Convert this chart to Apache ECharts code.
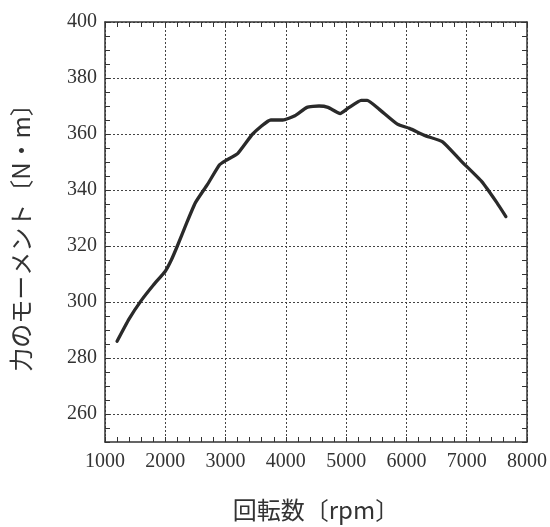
<!DOCTYPE html>
<html>
<head>
<meta charset="utf-8">
<script src="https://cdn.jsdelivr.net/npm/echarts@6/dist/echarts.min.js"></script>
<style>
  html, body { margin: 0; padding: 0; background: #ffffff; }
  #chart { width: 550px; height: 527px; }
</style>
</head>
<body>
<div id="chart"></div>
<script>
// ========== 数据 ==========
const rpmValues = [1200, 1400, 1600, 1800, 2000, 2100, 2200, 2350, 2500, 2700, 2900, 3000, 3200, 3450, 3750, 3950, 4150, 4350, 4550, 4700, 4900, 5050, 5250, 5350, 5550, 5850, 6050, 6300, 6600, 6900, 7250, 7500, 7650];
const torqueValues = [286, 294, 300.5, 306, 311, 315, 320, 328, 335.5, 342, 349, 350.5, 353, 360, 365, 365, 366.5, 369.5, 370, 369.5, 367.3, 369.5, 372, 372, 368.8, 363.5, 362, 359.5, 357.2, 350.5, 343, 335.5, 330.5];

const xTitle = '回転数〔rpm〕';
const yTitle = '力のモーメント〔N・m〕';

const seriesData = rpmValues.map((x, i) => [x, torqueValues[i]]);

const chart = echarts.init(document.getElementById('chart'), null, { renderer: 'canvas' });

const numFont = 'Liberation Serif';
const cjkFont = '"Noto Sans CJK JP"';
const frameColor = '#333333';
const gridColor = '#444444';

// 四边的刻度都朝内
const tickStyle = { show: true, inside: true, length: 5, lineStyle: { color: frameColor, width: 1 } };

const option = {
    animation: false,
    backgroundColor: '#ffffff',
    grid: { left: 105, right: 22, top: 22, bottom: 82 },
    xAxis: [
        {
            type: 'value',
            min: 1000,
            max: 8000,
            interval: 1000,
            position: 'bottom',
            name: xTitle,
            nameLocation: 'middle',
            nameGap: 56,
            nameTextStyle: { fontFamily: cjkFont, fontSize: 24, color: '#333' },
            axisLine: { show: true, lineStyle: { color: frameColor, width: 1.5 } },
            axisTick: tickStyle,
            minorTick: { show: true, splitNumber: 5, length: 5, lineStyle: { color: frameColor, width: 1 } },
            axisLabel: { fontFamily: numFont, fontSize: 20, color: '#333', margin: 10, formatter: (v) => String(v) },
            splitLine: { show: true, lineStyle: { color: gridColor, type: [2, 2], width: 1 } }
        },
        {
            type: 'value',
            min: 1000,
            max: 8000,
            interval: 1000,
            position: 'top',
            axisLine: { show: true, lineStyle: { color: frameColor, width: 1.5 } },
            axisTick: tickStyle,
            minorTick: { show: true, splitNumber: 5, length: 5, lineStyle: { color: frameColor, width: 1 } },
            axisLabel: { show: false },
            splitLine: { show: false }
        }
    ],
    yAxis: [
        {
            type: 'value',
            min: 250,
            max: 400,
            interval: 10,
            position: 'left',
            name: yTitle,
            nameLocation: 'middle',
            nameRotate: 90,
            nameGap: 72,
            nameTextStyle: { fontFamily: cjkFont, fontSize: 24, color: '#333' },
            axisLine: { show: true, lineStyle: { color: frameColor, width: 1.5 } },
            axisTick: tickStyle,
            minorTick: { show: true, splitNumber: 2, length: 5, lineStyle: { color: frameColor, width: 1 } },
            axisLabel: {
                fontFamily: numFont,
                fontSize: 20,
                color: '#333',
                margin: 8,
                formatter: (v) => (v % 20 === 0 ? String(v) : '')
            },
            // 网格线只画在20的倍数上
            splitLine: { show: true, lineStyle: { color: ['rgba(0,0,0,0)', gridColor], type: [2, 2], width: 1 } }
        },
        {
            type: 'value',
            min: 250,
            max: 400,
            interval: 10,
            position: 'right',
            axisLine: { show: true, lineStyle: { color: frameColor, width: 1.5 } },
            axisTick: tickStyle,
            minorTick: { show: true, splitNumber: 2, length: 5, lineStyle: { color: frameColor, width: 1 } },
            axisLabel: { show: false },
            splitLine: { show: false }
        }
    ],
    series: [
        {
            type: 'line',
            xAxisIndex: 0,
            yAxisIndex: 0,
            data: seriesData,
            showSymbol: false,
            smooth: 0.15,
            lineStyle: { color: '#2a2a2a', width: 3.3, cap: 'round', join: 'round' }
        }
    ]
};

chart.setOption(option);
</script>
</body>
</html>
